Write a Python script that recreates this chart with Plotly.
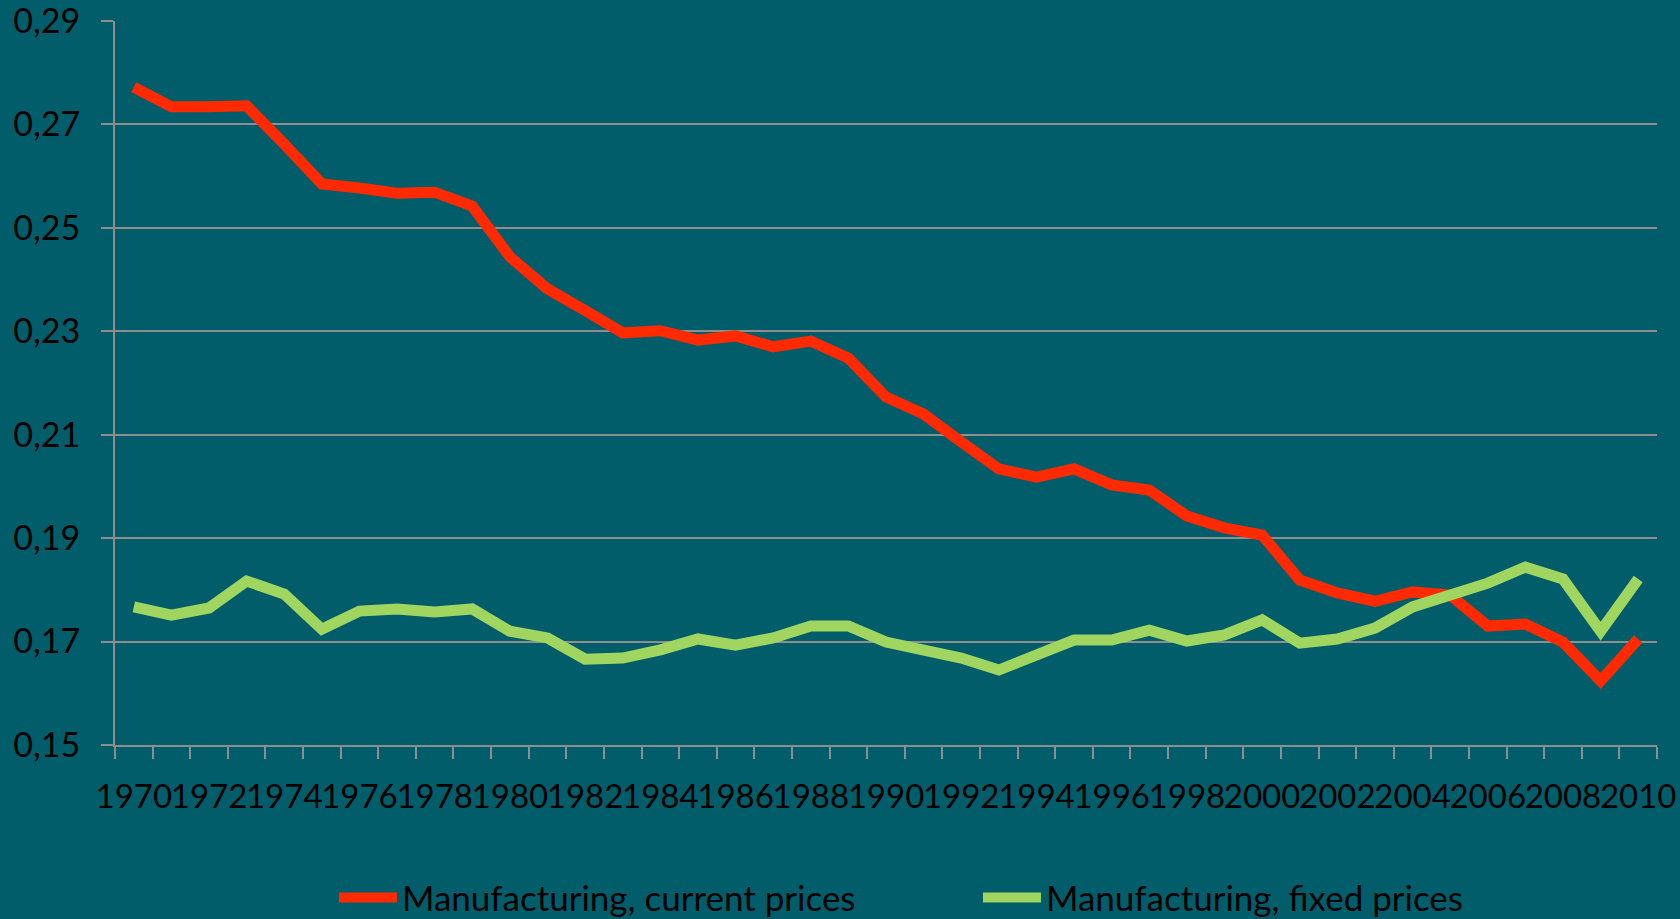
import plotly.graph_objects as go

years = list(range(1970, 2011))
current_prices = [0.2772, 0.2734, 0.2734, 0.2736, 0.2662, 0.2585, 0.2577, 0.2567, 0.2569, 0.2542,
                  0.2444, 0.2382, 0.2340, 0.2297, 0.2301, 0.2283, 0.2291, 0.2270, 0.2281, 0.2248,
                  0.2173, 0.2140, 0.2086, 0.2034, 0.2018, 0.2034, 0.2003, 0.1993, 0.1943, 0.1920,
                  0.1906, 0.1819, 0.1794, 0.1778, 0.1796, 0.1790, 0.1730, 0.1734, 0.1699, 0.1624,
                  0.1705]
fixed_prices = [0.1767, 0.1751, 0.1765, 0.1817, 0.1792, 0.1724, 0.1759, 0.1763, 0.1757, 0.1763,
                0.1720, 0.1707, 0.1666, 0.1668, 0.1684, 0.1705, 0.1693, 0.1707, 0.1730, 0.1730,
                0.1699, 0.1684, 0.1668, 0.1645, 0.1674, 0.1703, 0.1703, 0.1722, 0.1701, 0.1713,
                0.1742, 0.1697, 0.1705, 0.1726, 0.1767, 0.1790, 0.1813, 0.1844, 0.1821, 0.1720,
                0.1821]
y_ticks = [0.15, 0.17, 0.19, 0.21, 0.23, 0.25, 0.27, 0.29]
y_labels = ["0,15", "0,17", "0,19", "0,21", "0,23", "0,25", "0,27", "0,29"]
x_label_years = years[::2]
series_names = ["Manufacturing, current prices", "Manufacturing, fixed prices"]

BG = "#015d6a"
GRID = "#8e8e8e"
FONT = "Lato"

fig = go.Figure()
fig.add_trace(go.Scatter(x=years, y=current_prices, mode="lines", name=series_names[0],
                         line=dict(color="#ff2a00", width=11)))
fig.add_trace(go.Scatter(x=years, y=fixed_prices, mode="lines", name=series_names[1],
                         line=dict(color="#a0d660", width=11)))

fig.update_layout(
    width=1680, height=919,
    paper_bgcolor=BG, plot_bgcolor=BG,
    margin=dict(l=115, r=23, t=21, b=174, autoexpand=False),
    font=dict(family=FONT, color="#000000", size=34),
    showlegend=True,
    legend=dict(orientation="h", x=0.142, xanchor="left", y=-0.211, yanchor="middle",
                font=dict(family=FONT, size=35, color="#000000"),
                bgcolor="rgba(0,0,0,0)", itemwidth=58, entrywidth=571, entrywidthmode="pixels",
                tracegroupgap=0),
)
fig.update_xaxes(
    range=[1969.5, 2010.5], automargin=False, ticklabeloverflow="allow",
    tickmode="array", tickvals=x_label_years, ticktext=[str(y) for y in x_label_years],
    ticks="", tickangle=0, showgrid=False, zeroline=False,
    showline=True, linecolor=GRID, linewidth=2,
    tickfont=dict(family=FONT, size=33, color="#000000"),
    ticklabelstandoff=21,
    minor=dict(tickvals=[y - 0.5 for y in years] + [2010.5], ticks="outside",
               ticklen=12, tickwidth=2, tickcolor=GRID, showgrid=False),
)
fig.update_yaxes(
    range=[0.15, 0.29], automargin=False, ticklabeloverflow="allow",
    tickmode="array", tickvals=y_ticks, ticktext=y_labels,
    ticks="outside", ticklen=12, tickwidth=2, tickcolor=GRID,
    showgrid=True, gridcolor=GRID, gridwidth=2, zeroline=False,
    showline=True, linecolor=GRID, linewidth=2,
    tickfont=dict(family=FONT, size=34, color="#000000"),
    ticklabelstandoff=14,
)

fig.write_html("out.html", config={"displayModeBar": False},
               post_script="document.body.style.margin='0';")
